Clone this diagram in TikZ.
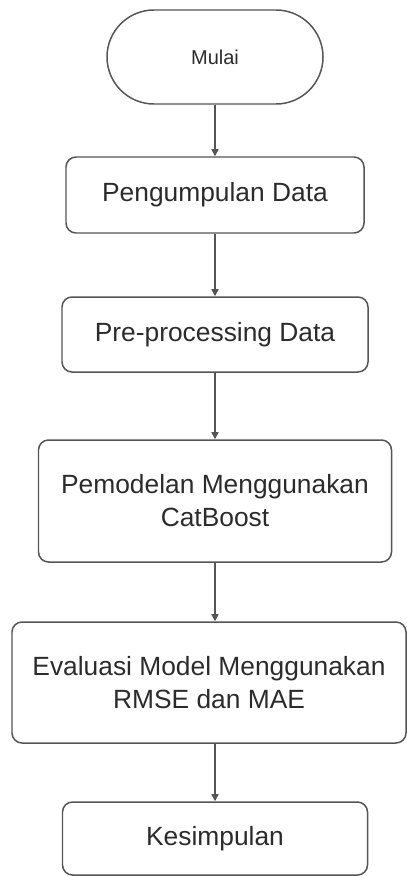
\documentclass[tikz,border=0pt]{standalone}
\usepackage{fontspec}
\setmainfont{Liberation Sans}
\usetikzlibrary{arrows.meta,positioning,calc}
\definecolor{fLine}{HTML}{555555}
\definecolor{fText}{HTML}{2B2B2B}

\begin{document}
\begin{tikzpicture}[>={Triangle[length=4pt,width=4pt]},
  flowbox/.style={draw=fLine,line width=0.85pt,rounded corners=0.2cm,
                  align=center,text=fText,font=\fontsize{15}{18.8}\selectfont},
  terminal/.style={draw=fLine,line width=0.85pt,rounded corners=0.94cm,
                   minimum width=4.32cm,minimum height=1.88cm,
                   text=fText,font=\fontsize{11.4}{14}\selectfont},
  flow/.style={fLine,line width=0.85pt,->}]
  \useasboundingbox (0,0) rectangle (8.14,-17.52);

  % start
  \node[terminal] (mulai) at (4.30,-1.14) {Mulai};

  % process steps
  \node[flowbox,minimum width=5.96cm,minimum height=1.52cm] (kumpul) at (4.30,-3.90)
        {Pengumpulan Data};
  \node[flowbox,minimum width=6.12cm,minimum height=1.50cm] (prepro) at (4.30,-6.69)
        {Pre-processing Data};
  \node[flowbox,minimum width=7.06cm,minimum height=2.44cm] (model) at (4.30,-10.02)
        {Pemodelan Menggunakan\\CatBoost};
  \node[flowbox,minimum width=7.88cm,minimum height=2.42cm] (evaluasi) at (4.18,-13.65)
        {Evaluasi Model Menggunakan\\RMSE dan MAE};
  \node[flowbox,minimum width=6.10cm,minimum height=1.46cm] (simpul) at (4.30,-16.77)
        {Kesimpulan};

  % connectors
  \draw[flow] (mulai.south) -- (kumpul.north);
  \draw[flow] (kumpul.south) -- (prepro.north);
  \draw[flow] (prepro.south) -- (model.north);
  \draw[flow] (model.south) -- (model.south |- evaluasi.north);
  \draw[flow] (evaluasi.south -| simpul.north) -- (simpul.north);
\end{tikzpicture}
\end{document}
